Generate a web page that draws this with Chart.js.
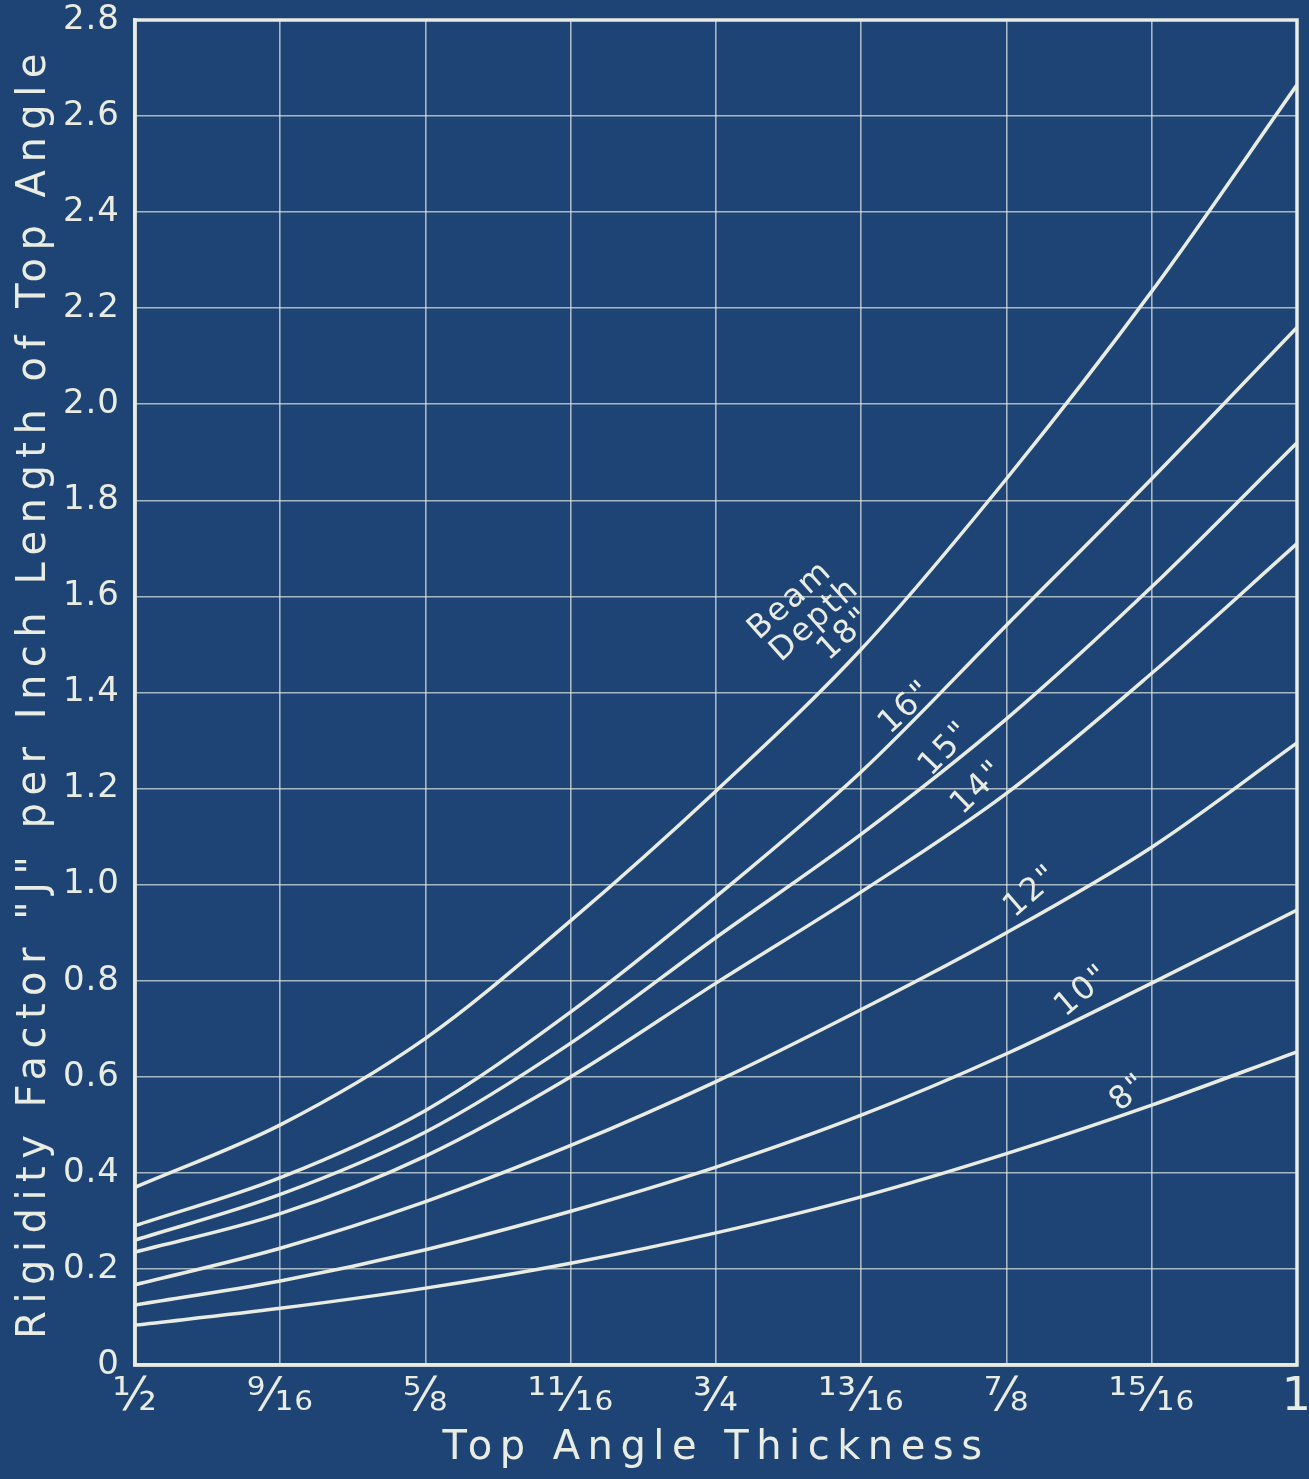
<!DOCTYPE html>
<html>
<head>
<meta charset="utf-8">
<script src="https://cdn.jsdelivr.net/npm/chart.js@4.4.1/dist/chart.umd.min.js"></script>
<style>
  html, body { margin: 0; padding: 0; background: #1e4475; }
  #wrap { width: 1309px; height: 1479px; position: relative; }
</style>
</head>
<body>
<div id="wrap"><canvas id="c" width="1309" height="1479"></canvas></div>
<script>
// ---- data ----
const thickness = [0.5, 0.5625, 0.625, 0.6875, 0.75, 0.8125, 0.875, 0.9375, 1];
const xTickLabels = ['½', '⁹⁄₁₆', '⅝', '¹¹⁄₁₆', '¾', '¹³⁄₁₆', '⅞', '¹⁵⁄₁₆', '1'];
const depth18 = [0.37, 0.50, 0.68, 0.925, 1.195, 1.49, 1.845, 2.235, 2.665];
const depth16 = [0.29, 0.39, 0.53, 0.735, 0.975, 1.235, 1.54, 1.845, 2.16];
const depth15 = [0.26, 0.355, 0.485, 0.67, 0.89, 1.105, 1.345, 1.62, 1.92];
const depth14 = [0.235, 0.315, 0.435, 0.60, 0.795, 0.985, 1.19, 1.44, 1.71];
const depth12 = [0.167, 0.243, 0.34, 0.457, 0.59, 0.74, 0.90, 1.078, 1.295];
const depth10 = [0.125, 0.175, 0.24, 0.32, 0.412, 0.52, 0.648, 0.795, 0.947];
const depth8  = [0.083, 0.118, 0.16, 0.212, 0.275, 0.35, 0.44, 0.541, 0.652];
const seriesNames = ['18"', '16"', '15"', '14"', '12"', '10"', '8"'];
const seriesValues = [depth18, depth16, depth15, depth14, depth12, depth10, depth8];
// curve labels: text lines, anchor in data units, rotation in degrees
const curveLabels = [
  { lines: ['Beam', 'Depth', '18"'], shift: [-5, 0, 13], x: 0.7926, y: 1.550, angle: -42 },
  { lines: ['16"'], shift: [0], x: 0.832, y: 1.368, angle: -43 },
  { lines: ['15"'], shift: [0], x: 0.849, y: 1.282, angle: -46 },
  { lines: ['14"'], shift: [0], x: 0.863, y: 1.201, angle: -44 },
  { lines: ['12"'], shift: [0], x: 0.886, y: 0.985, angle: -41 },
  { lines: ['10"'], shift: [0], x: 0.908, y: 0.778, angle: -40 },
  { lines: ['8"'],  shift: [0], x: 0.928, y: 0.566, angle: -40 }
];

const BG = '#1e4475';
const INK = '#e9ece2';
const GRID = 'rgba(225,232,228,0.70)';
const FONT = '"DejaVu Sans", sans-serif';
const TITLE_SPACING = '7.5px';
const TICK_SPACING = '1px';

const spacingPlugin = {
  id: 'spacing',
  beforeLayout(chart) { chart.ctx.letterSpacing = TICK_SPACING; },
  beforeDraw(chart) {
    const ctx = chart.ctx;
    ctx.save();
    ctx.fillStyle = BG;
    ctx.fillRect(0, 0, chart.width, chart.height);
    ctx.restore();
    ctx.letterSpacing = TITLE_SPACING;   // axis titles are drawn with the grid layer
  },
  afterDatasetsDraw(chart) {
    chart.ctx.letterSpacing = TICK_SPACING; // tick labels drawn in a later layer
  }
};

const framePlugin = {
  id: 'frame',
  afterDraw(chart) {
    const { ctx, chartArea: a } = chart;
    ctx.save();
    ctx.strokeStyle = INK;
    ctx.lineWidth = 3.5;
    ctx.strokeRect(a.left, a.top, a.right - a.left, a.bottom - a.top);
    ctx.restore();
  }
};

const labelPlugin = {
  id: 'curveLabels',
  afterDatasetsDraw(chart) {
    const ctx = chart.ctx;
    const xs = chart.scales.x, ys = chart.scales.y;
    ctx.save();
    ctx.fillStyle = INK;
    ctx.font = '32px ' + FONT;
    ctx.letterSpacing = '2px';
    ctx.textAlign = 'center';
    ctx.textBaseline = 'middle';
    curveLabels.forEach(l => {
      const px = xs.getPixelForValue(l.x), py = ys.getPixelForValue(l.y);
      ctx.save();
      ctx.translate(px, py);
      ctx.rotate(l.angle * Math.PI / 180);
      const lh = 31;
      const n = l.lines.length;
      l.lines.forEach((t, i) => {
        ctx.fillText(t, l.shift[i], (i - (n - 1) / 2) * lh);
      });
      ctx.restore();
    });
    ctx.restore();
  }
};

const datasets = seriesValues.map((vals, i) => ({
  label: seriesNames[i],
  data: thickness.map((t, j) => ({ x: t, y: vals[j] })),
  borderColor: INK,
  borderWidth: 3.5,
  pointRadius: 0,
  fill: false,
  cubicInterpolationMode: 'monotone'
}));

new Chart(document.getElementById('c'), {
  type: 'line',
  data: { datasets },
  options: {
    responsive: false,
    animation: false,
    events: [],
    layout: { padding: { top: 20, right: 12, left: 0, bottom: 0 } },
    plugins: { legend: { display: false }, tooltip: { enabled: false } },
    scales: {
      x: {
        type: 'linear',
        min: 0.5, max: 1,
        afterFit(s) { s.height = 114; s.paddingLeft = 0; s.paddingRight = 0; },
        ticks: {
          z: 1,
          stepSize: 0.0625,
          color: INK,
          font: { family: FONT, size: 46 },
          padding: 5,
          maxRotation: 0,
          autoSkip: false,
          callback: v => xTickLabels[Math.round((v - 0.5) * 16)]
        },
        grid: { color: GRID, lineWidth: 1.6, drawTicks: false },
        border: { color: INK, width: 3.5 },
        title: {
          display: true,
          text: 'Top Angle Thickness',
          color: INK,
          font: { family: FONT, size: 40 },
          padding: { top: 0, bottom: 6 }
        }
      },
      y: {
        min: 0, max: 2.8,
        afterFit(s) { s.width = 135; s.paddingTop = 0; s.paddingBottom = 0; },
        ticks: {
          z: 1,
          stepSize: 0.2,
          color: INK,
          font: { family: FONT, size: 34 },
          padding: 15,
          callback: v => (Math.abs(v) < 1e-9 ? '0' : v.toFixed(1))
        },
        grid: { color: GRID, lineWidth: 1.6, drawTicks: false },
        border: { color: INK, width: 3.5 },
        title: {
          display: true,
          text: 'Rigidity Factor "J" per Inch Length of Top Angle',
          color: INK,
          font: { family: FONT, size: 40 },
          padding: { top: 11, bottom: 0 }
        }
      }
    }
  },
  plugins: [spacingPlugin, framePlugin, labelPlugin]
});
</script>
</body>
</html>
